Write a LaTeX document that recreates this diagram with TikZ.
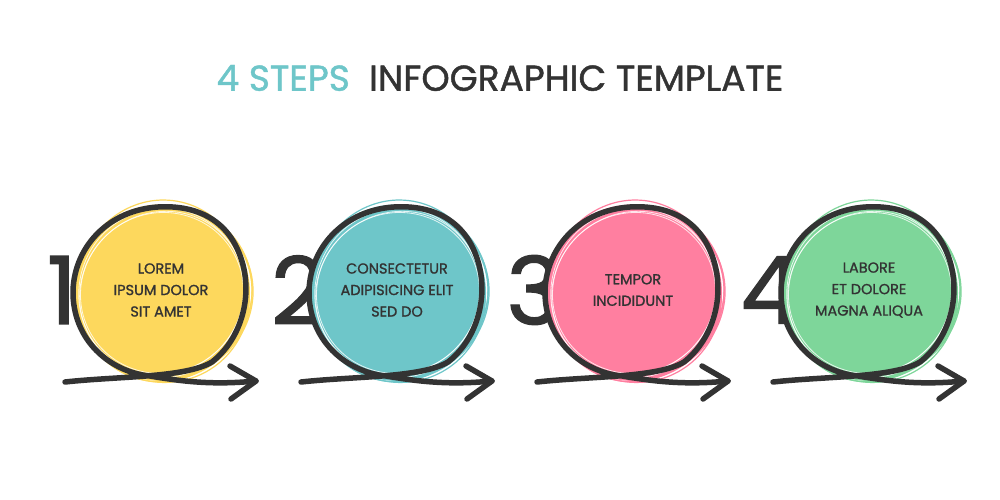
\documentclass[tikz,border=0pt]{standalone}
\usepackage{fontspec}
\setmainfont{Poppins}
\newfontfamily\medfont{Poppins}[FakeBold=1.2]
\definecolor{ink}{HTML}{333333}
\definecolor{teal}{HTML}{6EC6C9}
\definecolor{cyel}{HTML}{FDD85D}
\definecolor{cpink}{HTML}{FF7FA0}
\definecolor{cgreen}{HTML}{7ED69A}
\begin{document}
\begin{tikzpicture}[x=1pt,y=-1pt,
  lbl/.style={font=\medfont\fontsize{14.5}{21.5}\selectfont, text=ink, align=center, inner sep=0pt},
  num/.style={font=\medfont\fontsize{94}{94}\selectfont, text=ink, inner sep=0pt},
  loop/.style={draw=ink, line width=5.5pt, line cap=round, line join=round}]
\useasboundingbox[fill=white] (0,0) rectangle (1000,500);
\node[font=\medfont\fontsize{36}{36}\selectfont] (title) at (500,78) {\textcolor{teal}{4 STEPS}\ \ \textcolor{ink}{INFOGRAPHIC TEMPLATE}};
\foreach \i/\col/\n/\t in {0/cyel/1/{LOREM\\IPSUM DOLOR\\SIT AMET},1/teal/2/{CONSECTETUR\\ADIPISICING ELIT\\SED DO},2/cpink/3/{TEMPOR\\INCIDIDUNT},3/cgreen/4/{LABORE\\ET DOLORE\\MAGNA ALIQUA}}{
\begin{scope}[xshift=\i*236]
  \node[num] (n\n) at (62,290) {\n};
  \fill[\col] (162,293) circle (88);
  \foreach \a/\rx/\ry/\dx/\dy in {0/90/86/0/-2, 20/88/84/3/2, 50/86/89/-2/1, 80/91/85/2/-1, 110/85/88/1/3}
    \draw[\col, line width=1.2pt, rotate around={\a:(162,293)}] (162+\dx,293+\dy) ellipse ({\rx} and {\ry});
  \foreach \a/\rx/\ry in {30/82/80, 70/85/83, 130/80/84}
    \draw[white, line width=0.8pt, opacity=0.8, rotate around={\a:(162,293)}] (162,293) ellipse ({\rx} and {\ry});
  \coordinate (s\n) at (65,382);
  \coordinate (e\n) at (256,381);
  \draw[loop] (s\n) .. controls (120,376) and (185,378) .. (212,362)
     .. controls (240,340) and (252,300) .. (243,265)
     .. controls (230,215) and (190,205) .. (158,207)
     .. controls (110,210) and (75,245) .. (73,290)
     .. controls (72,340) and (110,372) .. (150,376)
     .. controls (185,382) and (215,385) .. (e\n);
  \draw[loop] (230,366) -- (e\n) -- (231,399);
  \node[lbl] (t\n) at (161,290) {\t};
\end{scope}}
\end{tikzpicture}
\end{document}
